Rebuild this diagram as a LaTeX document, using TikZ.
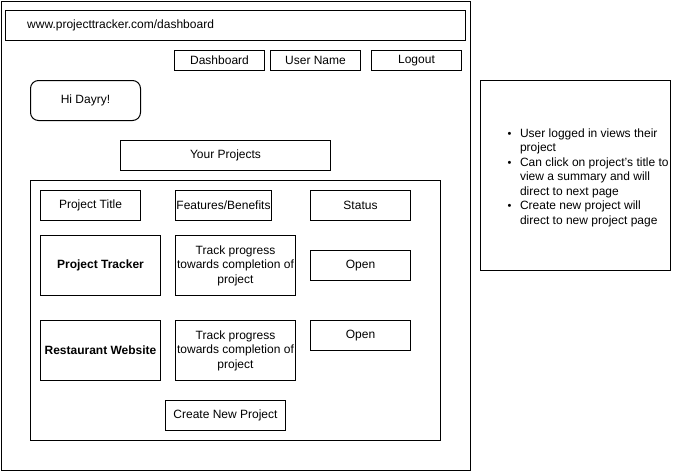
\documentclass[tikz,border=0pt]{standalone}
\usepackage{fontspec}
\setmainfont{Liberation Sans}
\begin{document}
\begin{tikzpicture}[x=1pt,y=-1pt,
  box/.style={draw=black,line width=1pt,anchor=north west,inner sep=0pt,
    font=\fontsize{12}{14.5}\selectfont,align=center},
  rbox/.style={box,rounded corners=8pt}]
\useasboundingbox (0,0) rectangle (674,471);
\node[box,minimum width=469.5pt,minimum height=469.5pt] (frame) at (0.5,0.5) {};
\node[box,minimum width=460pt,minimum height=30pt] (url) at (5,10) {};
\node[anchor=west,inner sep=0pt,font=\fontsize{12}{14.5}\selectfont] (urltext) at (27,25) {www.projecttracker.com/dashboard};
\node[box,minimum width=90pt,minimum height=20pt] (dash) at (174,50) {Dashboard};
\node[box,minimum width=90pt,minimum height=20pt] (user) at (270,50) {User Name};
\node[box,minimum width=90pt,minimum height=20pt] (logout) at (371,50) {Logout};
\node[rbox,minimum width=110pt,minimum height=40pt] (hi) at (30,80) {Hi Dayry!};
\node[box,minimum width=210pt,minimum height=30pt] (yp) at (120,140) {Your Projects};
\node[box,minimum width=410pt,minimum height=260pt] (inner) at (30,180) {};
\node[box,minimum width=100pt,minimum height=30pt] (pt) at (40,190) {Project Title};
\node[box,minimum width=96pt,minimum height=30pt] (fb) at (175,190) {Features/Benefits};
\node[box,minimum width=100pt,minimum height=30pt] (st) at (310,190) {Status};
\node[box,minimum width=120pt,minimum height=60pt] (p1) at (40,235) {\bfseries Project Tracker};
\node[box,minimum width=120pt,minimum height=60pt] (f1) at (175,235) {Track progress\\towards completion of\\project};
\node[box,minimum width=100pt,minimum height=30pt] (s1) at (310,250) {Open};
\node[box,minimum width=120pt,minimum height=60pt] (p2) at (40,320) {\bfseries Restaurant Website};
\node[box,minimum width=120pt,minimum height=60pt] (f2) at (175,320) {Track progress\\towards completion of\\project};
\node[box,minimum width=100pt,minimum height=30pt] (s2) at (310,320) {Open};
\node[box,minimum width=120pt,minimum height=30pt] (new) at (165,400) {Create New Project};
\node[box,minimum width=190pt,minimum height=190pt] (notes) at (480,80) {};
\node[anchor=north west,inner sep=0pt,font=\fontsize{12}{14.5}\selectfont] (bul) at (507.5,127) {%
  \begin{tabular}{@{}l@{\hspace{8.5pt}}l@{}}
  {\fontsize{11}{14.5}\selectfont\textbullet} & User logged in views their\\
  & project\\
  {\fontsize{11}{14.5}\selectfont\textbullet} & Can click on project's title to\\
  & view a summary and will\\
  & direct to next page\\
  {\fontsize{11}{14.5}\selectfont\textbullet} & Create new project will\\
  & direct to new project page
  \end{tabular}};
\end{tikzpicture}
\end{document}
